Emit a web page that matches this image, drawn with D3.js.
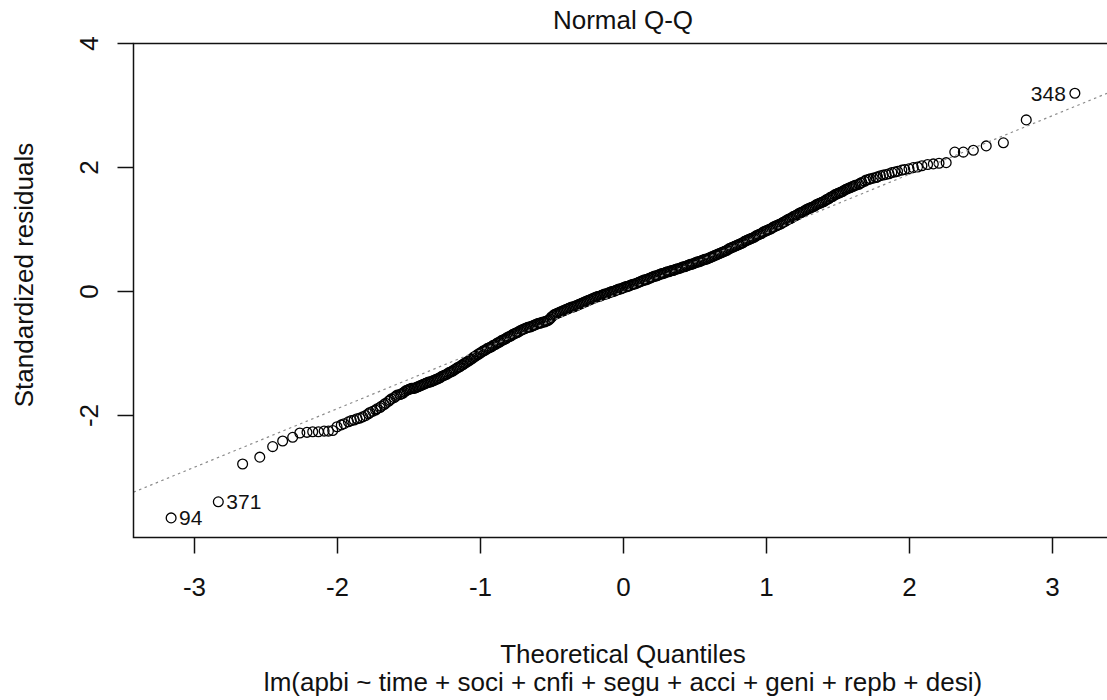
<!DOCTYPE html>
<html>
<head>
<meta charset="utf-8">
<script src="https://cdn.jsdelivr.net/npm/d3@7"></script>
<style>
  html, body { margin: 0; padding: 0; background: #fff; }
  svg { display: block; font-family: 'Liberation Sans', Arial, sans-serif; }
</style>
</head>
<body>
<div id="main"></div>
<script>
// theoretical quantile, standardized residual (sorted)
const qqPoints = [
  [-3.16, -3.66], [-2.83, -3.40], [-2.66, -2.79], [-2.54, -2.68], [-2.45, -2.51], [-2.38, -2.42],
  [-2.31, -2.36], [-2.26, -2.29], [-2.21, -2.28], [-2.17, -2.27], [-2.13, -2.27], [-2.09, -2.26],
  [-2.06, -2.26], [-2.03, -2.25], [-2.00, -2.19], [-1.97, -2.16], [-1.95, -2.14], [-1.92, -2.11],
  [-1.90, -2.09], [-1.88, -2.08], [-1.86, -2.06], [-1.84, -2.05], [-1.82, -2.03], [-1.80, -2.01],
  [-1.78, -1.98], [-1.77, -1.96], [-1.75, -1.94], [-1.73, -1.92], [-1.72, -1.90], [-1.70, -1.88],
  [-1.69, -1.86], [-1.67, -1.83], [-1.66, -1.81], [-1.64, -1.78], [-1.63, -1.76], [-1.62, -1.74],
  [-1.60, -1.72], [-1.59, -1.70], [-1.58, -1.68], [-1.56, -1.67], [-1.55, -1.66], [-1.54, -1.65],
  [-1.53, -1.63], [-1.52, -1.61], [-1.51, -1.60], [-1.50, -1.59], [-1.49, -1.58], [-1.48, -1.57],
  [-1.47, -1.57], [-1.46, -1.57],
  [-1.45, -1.56], [-1.44, -1.55], [-1.43, -1.54], [-1.42, -1.53], [-1.41, -1.52], [-1.40, -1.51],
  [-1.39, -1.50], [-1.38, -1.49], [-1.37, -1.48], [-1.36, -1.47], [-1.35, -1.47], [-1.34, -1.46],
  [-1.33, -1.45], [-1.32, -1.44], [-1.31, -1.43], [-1.30, -1.42], [-1.29, -1.41], [-1.28, -1.40],
  [-1.27, -1.38], [-1.26, -1.37], [-1.25, -1.36], [-1.24, -1.35], [-1.23, -1.34], [-1.22, -1.32],
  [-1.21, -1.31], [-1.20, -1.30], [-1.19, -1.29], [-1.18, -1.27], [-1.17, -1.26], [-1.16, -1.24],
  [-1.15, -1.23], [-1.14, -1.22], [-1.13, -1.20], [-1.12, -1.19], [-1.11, -1.17], [-1.10, -1.16],
  [-1.09, -1.14], [-1.08, -1.13], [-1.07, -1.11], [-1.06, -1.10], [-1.05, -1.08], [-1.04, -1.06],
  [-1.03, -1.05], [-1.02, -1.03], [-1.01, -1.02], [-1.00, -1.00], [-0.99, -0.99], [-0.98, -0.97],
  [-0.97, -0.96], [-0.96, -0.95], [-0.95, -0.93], [-0.94, -0.92], [-0.93, -0.91], [-0.92, -0.90],
  [-0.91, -0.88], [-0.90, -0.87], [-0.89, -0.86], [-0.88, -0.84], [-0.87, -0.83], [-0.86, -0.82],
  [-0.85, -0.80], [-0.84, -0.79], [-0.83, -0.78], [-0.82, -0.77], [-0.81, -0.75], [-0.80, -0.74],
  [-0.79, -0.73], [-0.78, -0.72], [-0.77, -0.70], [-0.76, -0.69], [-0.75, -0.68], [-0.74, -0.67],
  [-0.73, -0.66], [-0.72, -0.64], [-0.71, -0.63], [-0.70, -0.62], [-0.69, -0.61], [-0.68, -0.60],
  [-0.67, -0.59], [-0.66, -0.58], [-0.65, -0.58], [-0.64, -0.57], [-0.63, -0.56], [-0.62, -0.55],
  [-0.61, -0.54], [-0.60, -0.53], [-0.59, -0.52], [-0.58, -0.52], [-0.57, -0.51], [-0.56, -0.50],
  [-0.55, -0.50], [-0.54, -0.49], [-0.53, -0.48], [-0.52, -0.47], [-0.51, -0.45], [-0.50, -0.42],
  [-0.49, -0.40], [-0.48, -0.38], [-0.47, -0.37], [-0.46, -0.36], [-0.45, -0.35], [-0.44, -0.34],
  [-0.43, -0.33], [-0.42, -0.32], [-0.41, -0.31], [-0.40, -0.30], [-0.39, -0.29], [-0.38, -0.28],
  [-0.37, -0.27], [-0.36, -0.26], [-0.35, -0.26], [-0.34, -0.25], [-0.33, -0.24], [-0.32, -0.23],
  [-0.31, -0.22], [-0.30, -0.21], [-0.29, -0.20], [-0.28, -0.19], [-0.27, -0.18], [-0.26, -0.17],
  [-0.25, -0.16], [-0.24, -0.15], [-0.23, -0.14], [-0.22, -0.13], [-0.21, -0.12], [-0.20, -0.11],
  [-0.19, -0.10], [-0.18, -0.09], [-0.17, -0.09], [-0.16, -0.08], [-0.15, -0.07], [-0.14, -0.06],
  [-0.13, -0.05], [-0.12, -0.05], [-0.11, -0.04], [-0.10, -0.03], [-0.09, -0.02], [-0.08, -0.01],
  [-0.07, -0.01], [-0.06, 0.00], [-0.05, 0.01], [-0.04, 0.02], [-0.03, 0.03], [-0.02, 0.03],
  [-0.01, 0.04], [0.00, 0.05], [0.01, 0.06], [0.02, 0.07], [0.03, 0.07], [0.04, 0.08],
  [0.05, 0.09], [0.06, 0.10], [0.07, 0.11], [0.08, 0.11], [0.09, 0.12], [0.10, 0.13],
  [0.11, 0.14], [0.12, 0.15], [0.13, 0.16], [0.14, 0.17], [0.15, 0.18], [0.16, 0.18],
  [0.17, 0.19], [0.18, 0.20], [0.19, 0.21], [0.20, 0.22], [0.21, 0.23], [0.22, 0.24],
  [0.23, 0.24], [0.24, 0.25], [0.25, 0.26], [0.26, 0.27], [0.27, 0.28], [0.28, 0.28],
  [0.29, 0.29], [0.30, 0.30], [0.31, 0.31], [0.32, 0.31], [0.33, 0.32], [0.34, 0.33],
  [0.35, 0.33], [0.36, 0.34], [0.37, 0.35], [0.38, 0.36], [0.39, 0.36], [0.40, 0.37],
  [0.41, 0.38], [0.42, 0.39], [0.43, 0.39], [0.44, 0.40], [0.45, 0.41], [0.46, 0.42],
  [0.47, 0.43], [0.48, 0.43], [0.49, 0.44], [0.50, 0.45], [0.51, 0.46], [0.52, 0.47],
  [0.53, 0.47], [0.54, 0.48], [0.55, 0.49], [0.56, 0.50], [0.57, 0.51], [0.58, 0.51],
  [0.59, 0.52], [0.60, 0.53], [0.61, 0.54], [0.62, 0.55], [0.63, 0.56], [0.64, 0.57],
  [0.65, 0.58], [0.66, 0.59], [0.67, 0.60], [0.68, 0.61], [0.69, 0.62], [0.70, 0.63],
  [0.71, 0.64], [0.72, 0.65], [0.73, 0.66], [0.74, 0.68], [0.75, 0.69], [0.76, 0.70],
  [0.77, 0.71], [0.78, 0.72], [0.79, 0.73], [0.80, 0.74], [0.81, 0.75], [0.82, 0.76],
  [0.83, 0.77], [0.84, 0.78], [0.85, 0.80], [0.86, 0.81], [0.87, 0.82], [0.88, 0.83],
  [0.89, 0.84], [0.90, 0.85], [0.91, 0.86], [0.92, 0.87], [0.93, 0.89], [0.94, 0.90],
  [0.95, 0.91], [0.96, 0.92], [0.97, 0.93], [0.98, 0.95], [0.99, 0.96], [1.00, 0.97],
  [1.01, 0.98], [1.02, 0.99], [1.03, 1.00], [1.04, 1.01], [1.05, 1.03], [1.06, 1.04],
  [1.07, 1.05], [1.08, 1.06], [1.09, 1.07], [1.10, 1.08], [1.11, 1.09], [1.12, 1.11],
  [1.13, 1.12], [1.14, 1.13], [1.15, 1.15], [1.16, 1.16], [1.17, 1.17], [1.18, 1.18],
  [1.19, 1.20], [1.20, 1.21], [1.21, 1.22], [1.22, 1.23], [1.23, 1.25], [1.24, 1.26],
  [1.25, 1.27], [1.26, 1.28], [1.27, 1.29], [1.28, 1.31], [1.29, 1.32], [1.30, 1.33],
  [1.31, 1.34], [1.32, 1.35], [1.33, 1.36], [1.34, 1.37], [1.35, 1.39], [1.36, 1.40],
  [1.37, 1.41], [1.38, 1.42], [1.39, 1.43], [1.40, 1.44], [1.41, 1.45], [1.42, 1.47],
  [1.43, 1.48], [1.44, 1.49], [1.45, 1.51], [1.46, 1.52], [1.47, 1.53], [1.48, 1.55],
  [1.49, 1.56], [1.50, 1.57], [1.51, 1.58], [1.52, 1.59], [1.53, 1.60], [1.54, 1.61],
  [1.55, 1.63], [1.56, 1.64], [1.57, 1.65], [1.58, 1.66], [1.59, 1.67],
  [1.60, 1.68], [1.61, 1.69], [1.62, 1.70], [1.63, 1.71], [1.65, 1.72], [1.66, 1.74],
  [1.67, 1.75], [1.69, 1.77], [1.70, 1.79], [1.72, 1.80], [1.73, 1.81], [1.75, 1.82],
  [1.77, 1.83], [1.78, 1.84], [1.80, 1.86], [1.82, 1.87], [1.84, 1.88], [1.86, 1.89],
  [1.88, 1.91], [1.90, 1.92], [1.92, 1.93], [1.95, 1.95], [1.97, 1.96], [2.00, 1.97],
  [2.03, 1.99], [2.06, 2.00], [2.09, 2.02], [2.13, 2.04], [2.17, 2.05], [2.21, 2.06],
  [2.26, 2.07], [2.32, 2.24], [2.38, 2.24], [2.45, 2.27], [2.54, 2.34], [2.66, 2.39],
  [2.82, 2.76], [3.16, 3.19],
];

// observation numbers printed next to the three extreme points
const pointLabels = [
  { q: -3.16, text: '94', side: 'right' },
  { q: -2.83, text: '371', side: 'right' },
  { q: 3.16, text: '348', side: 'left' },
];

// qqline through the quartiles
const lineIntercept = -0.01;
const lineSlope = 0.945;

const xTicks = [-3, -2, -1, 0, 1, 2, 3];
const yTicks = [-2, 0, 2, 4];

const mainTitle = 'Normal Q-Q';
const xTitle = 'Theoretical Quantiles';
const yTitle = 'Standardized residuals';
const subTitle = 'lm(apbi ~ time + soci + cnfi + segu + acci + geni + repb + desi)';

const width = 1107;
const height = 700;
const box = { left: 133.5, top: 43.5, right: 1120, bottom: 537.5 };
const fontSize = 26;
const ink = '#111';

const x = d3.scaleLinear().domain([-3, 3]).range([194, 1052]);
const y = d3.scaleLinear().domain([-2, 4]).range([415, 43]);

const svg = d3.select('#main').append('svg')
  .attr('width', width)
  .attr('height', height);

svg.append('defs').append('clipPath')
  .attr('id', 'plot-clip')
  .append('rect')
  .attr('x', box.left)
  .attr('y', box.top)
  .attr('width', box.right - box.left)
  .attr('height', box.bottom - box.top);

const plot = svg.append('g').attr('clip-path', 'url(#plot-clip)');

/* Points */
plot.selectAll('circle')
  .data(qqPoints)
  .enter()
  .append('circle')
  .attr('cx', (d) => x(d[0]))
  .attr('cy', (d) => y(d[1]))
  .attr('r', 4.9)
  .style('fill', 'none')
  .style('stroke', '#000')
  .style('stroke-width', '1.3px');

/* Reference line, drawn on top like qqline() */
const q0 = x.invert(box.left);
const q1 = x.invert(box.right);
plot.append('line')
  .attr('x1', x(q0))
  .attr('y1', y(lineIntercept + lineSlope * q0))
  .attr('x2', x(q1))
  .attr('y2', y(lineIntercept + lineSlope * q1))
  .style('stroke', '#8c8c8c')
  .style('stroke-width', '1.2px')
  .style('stroke-dasharray', '2.5,3.5');

/* Point labels */
svg.selectAll('text.pt-label')
  .data(pointLabels)
  .enter()
  .append('text')
  .attr('class', 'pt-label')
  .attr('x', (d) => x(d.q) + (d.side === 'right' ? 8 : -9))
  .attr('y', (d) => y(qqPoints.find((p) => p[0] === d.q)[1]))
  .attr('dy', '0.35em')
  .attr('text-anchor', (d) => (d.side === 'right' ? 'start' : 'end'))
  .style('font-size', '21px')
  .style('fill', ink)
  .text((d) => d.text);

/* Box (right edge lies outside the window) */
svg.append('path')
  .attr('d', `M${box.right},${box.top}H${box.left}V${box.bottom}H${box.right}`)
  .style('fill', 'none')
  .style('stroke', ink)
  .style('stroke-width', '1.5px');

/* X axis */
const xAxis = svg.append('g')
  .attr('transform', `translate(0,${box.bottom})`)
  .call(d3.axisBottom(x).tickValues(xTicks).tickSize(16).tickPadding(24).tickFormat(d3.format('d')));
xAxis.select('.domain').remove();
xAxis.selectAll('line').style('stroke', ink).style('stroke-width', '1.5px');
xAxis.selectAll('text')
  .style('font-size', `${fontSize}px`)
  .style('font-family', "'Liberation Sans', Arial, sans-serif")
  .style('fill', ink)
  .text((d) => (d < 0 ? `-${Math.abs(d)}` : d));

/* Y axis, labels parallel to the axis as in base R */
const yAxis = svg.append('g')
  .attr('transform', `translate(${box.left},0)`)
  .call(d3.axisLeft(y).tickValues(yTicks).tickSize(16).tickFormat(d3.format('d')));
yAxis.select('.domain').remove();
yAxis.selectAll('line').style('stroke', ink).style('stroke-width', '1.5px');
yAxis.selectAll('text')
  .attr('x', null)
  .attr('dy', null)
  .attr('transform', 'translate(-36,0) rotate(-90)')
  .attr('text-anchor', 'middle')
  .style('font-size', `${fontSize}px`)
  .style('font-family', "'Liberation Sans', Arial, sans-serif")
  .style('fill', ink)
  .text((d) => (d < 0 ? `-${Math.abs(d)}` : d));

/* Titles */
svg.append('text')
  .attr('x', 623)
  .attr('y', 29)
  .attr('text-anchor', 'middle')
  .style('font-size', `${fontSize}px`)
  .style('fill', ink)
  .text(mainTitle);

svg.append('text')
  .attr('x', 623)
  .attr('y', 663)
  .attr('text-anchor', 'middle')
  .style('font-size', `${fontSize}px`)
  .style('fill', ink)
  .text(xTitle);

svg.append('text')
  .attr('x', 623)
  .attr('y', 691)
  .attr('text-anchor', 'middle')
  .style('font-size', `${fontSize}px`)
  .style('fill', ink)
  .text(subTitle);

svg.append('text')
  .attr('transform', 'translate(33,275) rotate(-90)')
  .attr('text-anchor', 'middle')
  .style('font-size', `${fontSize}px`)
  .style('fill', ink)
  .text(yTitle);
</script>
</body>
</html>
